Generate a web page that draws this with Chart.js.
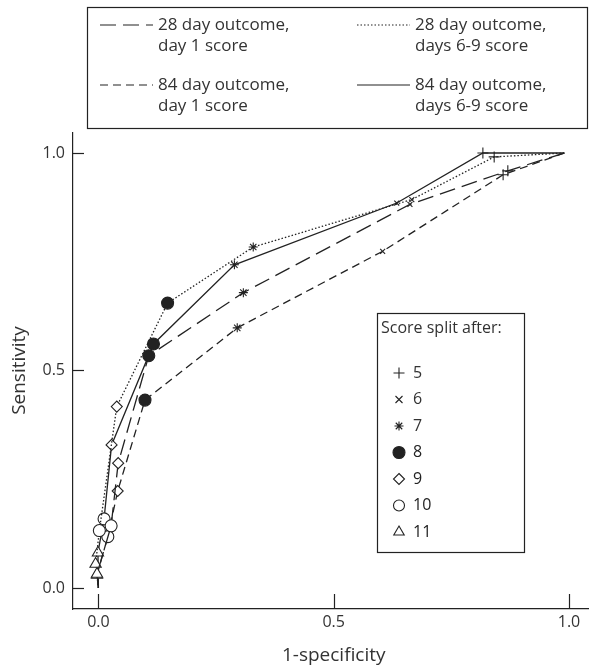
<!DOCTYPE html>
<html>
<head>
<meta charset="utf-8">
<script src="https://cdn.jsdelivr.net/npm/chart.js@4/dist/chart.umd.min.js"></script>
<style>
  html, body { margin: 0; padding: 0; background: #fff; }
  #wrap { position: relative; width: 589px; height: 669px; }
</style>
</head>
<body>
<div id="wrap"><canvas id="roc" width="589" height="669"></canvas></div>
<script>
// score split points, ordered split 5 -> 11
const splitLabels = ["5", "6", "7", "8", "9", "10", "11"];
const splitStyles = ["cross", "crossRot", "star", "circle", "rectRot", "circle", "triangle"];
const xTicks = [0, 0.5, 1.0];
const yTicks = [0, 0.5, 1.0];

// each curve: (1,1), splits 5..11, then (0,0)
const out28day1X  = [0.99, 0.870, 0.662, 0.308, 0.107, 0.042, 0.027, -0.003, 0];
const out28day1Y  = [1.0,  0.959, 0.882, 0.679, 0.534, 0.287, 0.143, 0.032, 0];
const out28day69X = [0.99, 0.841, 0.666, 0.329, 0.147, 0.039, 0.002, -0.006, 0];
const out28day69Y = [1.0,  0.991, 0.893, 0.784, 0.655, 0.417, 0.132, 0.055, 0];
const out84day1X  = [0.99, 0.860, 0.604, 0.295, 0.099, 0.041, 0.020, -0.003, 0];
const out84day1Y  = [1.0,  0.950, 0.774, 0.598, 0.432, 0.223, 0.118, 0.030, 0];
const out84day69X = [0.99, 0.817, 0.634, 0.289, 0.117, 0.028, 0.012, -0.001, 0];
const out84day69Y = [1.0,  1.0,   0.885, 0.743, 0.561, 0.329, 0.159, 0.081, 0];

const INK = "#222";
const TXT = "#333";
const FONT = "'Open Sans', sans-serif";

const dashLong = [16, 7];
const dashShort = [8, 5];
const dashDot = [1.5, 2];

const markRadius = { cross: 5.5, crossRot: 3.5, star: 4.5, circle: 6, rectRot: 6, triangle: 6.5 };

function toPoints(xs, ys) {
  return xs.map((x, i) => ({ x: x, y: ys[i] }));
}

function makeSet(label, xs, ys, dash) {
  const styles = ["circle"].concat(splitStyles, ["circle"]);
  return {
    label: label,
    data: toPoints(xs, ys),
    showLine: true,
    borderColor: INK,
    borderWidth: 1.3,
    borderDash: dash,
    pointStyle: styles,
    pointRadius: styles.map((s, i) => (i === 0 || i === styles.length - 1) ? 0 : (i === 5 ? 5.5 : markRadius[s])),
    pointBorderColor: INK,
    pointBorderWidth: 1.1,
    pointBackgroundColor: styles.map((s, i) => i === 4 ? INK : "#fff")
  };
}

// little marker drawer for the split legend
function drawMark(ctx, style, x, y, r, filled) {
  ctx.beginPath();
  if (style === "cross") {
    ctx.moveTo(x - r, y); ctx.lineTo(x + r, y);
    ctx.moveTo(x, y - r); ctx.lineTo(x, y + r);
  } else if (style === "crossRot") {
    ctx.moveTo(x - r, y - r); ctx.lineTo(x + r, y + r);
    ctx.moveTo(x - r, y + r); ctx.lineTo(x + r, y - r);
  } else if (style === "star") {
    ctx.moveTo(x - r, y); ctx.lineTo(x + r, y);
    ctx.moveTo(x, y - r); ctx.lineTo(x, y + r);
    const q = r * 0.72;
    ctx.moveTo(x - q, y - q); ctx.lineTo(x + q, y + q);
    ctx.moveTo(x - q, y + q); ctx.lineTo(x + q, y - q);
  } else if (style === "circle") {
    ctx.arc(x, y, r, 0, Math.PI * 2);
  } else if (style === "rectRot") {
    ctx.moveTo(x, y - r); ctx.lineTo(x + r, y); ctx.lineTo(x, y + r); ctx.lineTo(x - r, y); ctx.closePath();
  } else if (style === "triangle") {
    ctx.moveTo(x, y - r); ctx.lineTo(x + r * 0.87, y + r * 0.5); ctx.lineTo(x - r * 0.87, y + r * 0.5); ctx.closePath();
  }
  if (filled) { ctx.fillStyle = INK; ctx.fill(); }
  ctx.stroke();
}

const decor = {
  id: "decor",
  afterDraw(chart) {
    const ctx = chart.ctx;
    const xs = chart.scales.x, ys = chart.scales.y;
    const area = chart.chartArea;
    ctx.save();
    ctx.strokeStyle = INK;
    ctx.lineWidth = 1.2;
    ctx.setLineDash([]);

    // inward tick marks
    xTicks.forEach(v => {
      const px = Math.round(xs.getPixelForValue(v)) + 0.5;
      ctx.beginPath(); ctx.moveTo(px, area.bottom); ctx.lineTo(px, area.bottom - 15); ctx.stroke();
    });
    yTicks.forEach(v => {
      const py = Math.round(ys.getPixelForValue(v)) + 0.5;
      ctx.beginPath(); ctx.moveTo(area.left, py); ctx.lineTo(area.left + 11, py); ctx.stroke();
    });

    // axis titles
    ctx.fillStyle = TXT;
    ctx.font = "19px " + FONT;
    ctx.textAlign = "center";
    ctx.textBaseline = "middle";
    ctx.fillText("1-specificity", (xs.getPixelForValue(0) + xs.getPixelForValue(1)) / 2, 656);
    ctx.save();
    ctx.translate(20, ys.getPixelForValue(0.5));
    ctx.rotate(-Math.PI / 2);
    ctx.fillText("Sensitivity", 0, 0);
    ctx.restore();

    // top line-style legend
    ctx.font = "17px " + FONT;
    ctx.strokeRect(87.5, 7.5, 500, 121);
    const entries = [
      { dash: dashLong,  x: 100, y: 25, lines: ["28 day outcome,", "day 1 score"] },
      { dash: dashDot,   x: 357, y: 25, lines: ["28 day outcome,", "days 6-9 score"] },
      { dash: dashShort, x: 100, y: 85, lines: ["84 day outcome,", "day 1 score"] },
      { dash: [],        x: 357, y: 85, lines: ["84 day outcome,", "days 6-9 score"] }
    ];
    ctx.textAlign = "left";
    entries.forEach(e => {
      ctx.setLineDash(e.dash);
      ctx.beginPath(); ctx.moveTo(e.x, e.y); ctx.lineTo(e.x + 53, e.y); ctx.stroke();
      ctx.setLineDash([]);
      e.lines.forEach((t, i) => ctx.fillText(t, e.x + 58, e.y + i * 21));
    });

    // split marker legend
    ctx.font = "16px " + FONT;
    ctx.strokeRect(377.5, 313.5, 147, 239);
    ctx.fillText("Score split after:", 381, 328);
    splitLabels.forEach((lab, i) => {
      const y = 373 + i * 26.5;
      ctx.lineWidth = 1.1;
      drawMark(ctx, splitStyles[i], 399, y, { cross: 5.5, crossRot: 3.5, star: 4.5, circle: 6, rectRot: 5.5, triangle: 6 }[splitStyles[i]] - (i === 5 ? 0.5 : 0), i === 3);
      ctx.fillText(lab, 413, y);
    });
    ctx.restore();
  }
};

const tickFont = { family: FONT, size: 16 };

new Chart(document.getElementById("roc"), {
  type: "scatter",
  data: {
    datasets: [
      makeSet("28 day outcome, day 1 score", out28day1X, out28day1Y, dashLong),
      makeSet("28 day outcome, days 6-9 score", out28day69X, out28day69Y, dashDot),
      makeSet("84 day outcome, day 1 score", out84day1X, out84day1Y, dashShort),
      makeSet("84 day outcome, days 6-9 score", out84day69X, out84day69Y, [])
    ]
  },
  options: {
    responsive: false,
    animation: false,
    devicePixelRatio: 1,
    layout: { padding: { top: 133, right: 0, left: 0, bottom: 0 } },
    plugins: { legend: { display: false }, tooltip: { enabled: false } },
    scales: {
      x: {
        type: "linear",
        min: -0.054,
        max: 1.0425,
        afterBuildTicks: s => { s.ticks = xTicks.map(v => ({ value: v })); },
        afterFit: s => { s.height = 60; },
        grid: { display: false, drawTicks: false },
        border: { display: true, color: INK, width: 1.2 },
        ticks: { font: tickFont, color: TXT, padding: 4, maxRotation: 0, callback: v => v.toFixed(1) }
      },
      y: {
        type: "linear",
        min: -0.0483,
        max: 1.046,
        afterBuildTicks: s => { s.ticks = yTicks.map(v => ({ value: v })); },
        afterFit: s => { s.width = 73; },
        grid: { display: false, drawTicks: false },
        border: { display: true, color: INK, width: 1.2 },
        ticks: { font: tickFont, color: TXT, padding: 8, callback: v => v.toFixed(1) }
      }
    }
  },
  plugins: [decor]
});
</script>
</body>
</html>
